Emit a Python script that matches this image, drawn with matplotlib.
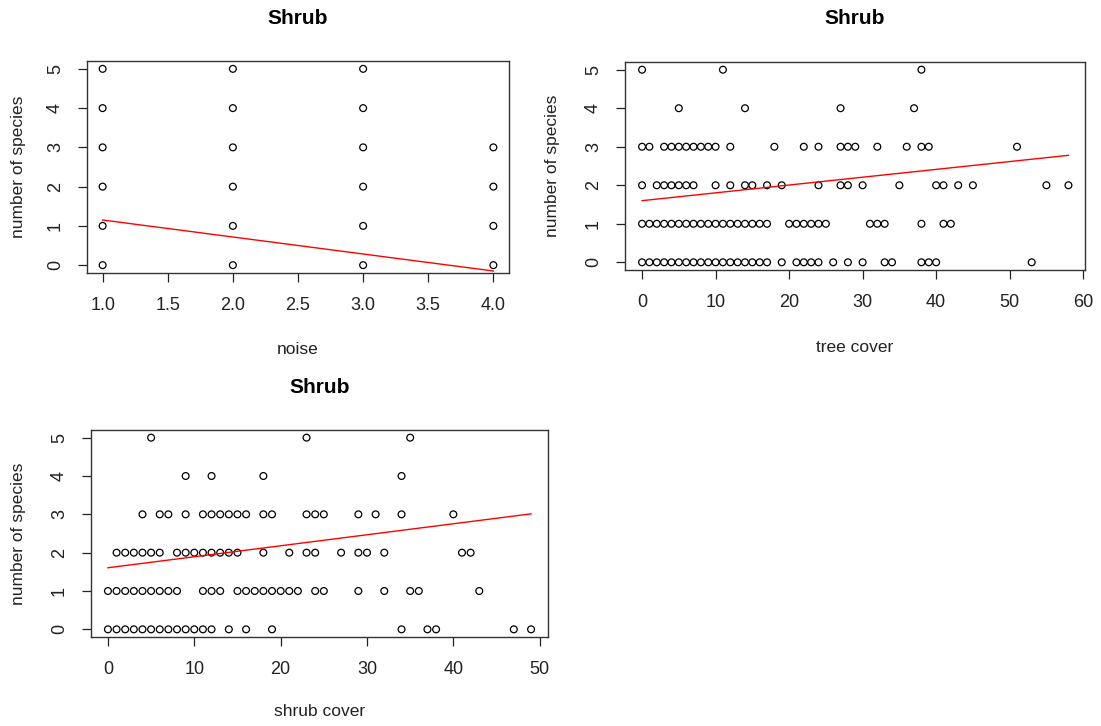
"""
three scatter plots of number of shrub species against noise, tree cover and shrub cover
"""
import matplotlib
matplotlib.use("Agg")
import matplotlib.pyplot as plt

# noise level -> species counts seen at that level
noise_levels = [1, 2, 3, 4]
noise_species = [[0, 1, 2, 3, 4, 5], [0, 1, 2, 3, 4, 5], [0, 1, 2, 3, 4, 5], [0, 1, 2, 3]]

# species count -> tree cover values
tree_cover = {
    0: list(range(0, 18)) + [19, 21, 22, 23, 24, 26, 28, 30, 33, 34, 38, 39, 40, 53],
    1: list(range(0, 18)) + [20, 21, 22, 23, 24, 25, 31, 32, 33, 38, 41, 42],
    2: [0, 2, 3, 4, 5, 6, 7, 10, 12, 14, 15, 17, 19, 24, 27, 28, 30, 35, 40, 41, 43, 45, 55, 58],
    3: [0, 1, 3, 4, 5, 6, 7, 8, 9, 10, 12, 18, 22, 24, 27, 28, 29, 32, 36, 38, 39, 51],
    4: [5, 14, 27, 37],
    5: [0, 11, 38],
}

# species count -> shrub cover values
shrub_cover = {
    0: list(range(0, 13)) + [14, 16, 19, 34, 37, 38, 47, 49],
    1: list(range(0, 9)) + [11, 12, 13, 15, 16, 17, 18, 19, 20, 21, 22, 24, 25, 29, 32, 35, 36, 43],
    2: [1, 2, 3, 4, 5, 6, 8, 9, 10, 11, 12, 13, 14, 15, 18, 21, 23, 24, 27, 29, 30, 32, 41, 42],
    3: [4, 6, 7, 9, 11, 12, 13, 14, 15, 16, 18, 19, 23, 24, 25, 29, 31, 34, 40],
    4: [9, 12, 18, 34],
    5: [5, 23, 35],
}

# linear fits (intercept, slope)
noise_fit = (1.583, -0.433)
tree_fit = (1.60, 0.0203)
shrub_fit = (1.606, 0.0287)

W, H = 1101, 726


def flatten(d):
    xs, ys = [], []
    for k, vals in d.items():
        xs += vals
        ys += [k] * len(vals)
    return xs, ys


def panel(fig, box, xs, ys, fit, xlim, xticks, xticklabels, xlabel, title_y, xlabel_y, ylabel_x):
    left, right, top, bottom = box
    ax = fig.add_axes([left / W, 1 - bottom / H, (right - left) / W, (bottom - top) / H])
    ax.scatter(xs, ys, s=24, facecolors="none", edgecolors="k", linewidths=0.9)
    x0, x1 = min(xs), max(xs)
    ax.plot([x0, x1], [fit[0] + fit[1] * x0, fit[0] + fit[1] * x1], color="red", lw=1)
    ax.set_xlim(*xlim)
    ax.set_ylim(-0.2, 5.2)
    ax.set_xticks(xticks)
    ax.set_xticklabels(xticklabels)
    ax.set_yticks(range(6))
    ax.set_yticklabels([str(i) for i in range(6)], rotation=90, va="center")
    ax.tick_params(direction="out", length=6.5, width=0.9, labelsize=13, colors="#222222")
    ax.tick_params(axis="x", pad=11)
    ax.tick_params(axis="y", pad=10)
    for s in ax.spines.values():
        s.set_linewidth(1)
        s.set_color("#333333")
    cx = (left + right) / 2
    fig.text(cx / W, 1 - title_y / H, "Shrub", ha="center", va="center",
             fontsize=15, fontweight="bold")
    fig.text(cx / W, 1 - xlabel_y / H, xlabel, ha="center", va="center", fontsize=12.5,
             color="#222222")
    fig.text(ylabel_x / W, 1 - (top + bottom) / 2 / H, "number of species", ha="center",
             va="center", rotation=90, fontsize=12.5, color="#222222")
    return ax


def main():
    plt.rcParams["font.family"] = ["Liberation Sans", "DejaVu Sans"]
    fig = plt.figure(figsize=(W / 100, H / 100), dpi=100)

    nx, ny = [], []
    for lvl, vals in zip(noise_levels, noise_species):
        nx += [lvl] * len(vals)
        ny += vals
    panel(fig, (87, 509, 61, 273), nx, ny, noise_fit, (0.88, 4.12),
          [1, 1.5, 2, 2.5, 3, 3.5, 4], ["1.0", "1.5", "2.0", "2.5", "3.0", "3.5", "4.0"],
          "noise", 18, 350, 19)

    tx, ty = flatten(tree_cover)
    panel(fig, (625, 1085, 62, 270), tx, ty, tree_fit, (-2.32, 60.25),
          [0, 10, 20, 30, 40, 50, 60], ["0", "10", "20", "30", "40", "50", "60"],
          "tree cover", 19, 347, 553)

    sx, sy = flatten(shrub_cover)
    panel(fig, (91, 548, 430, 637), sx, sy, shrub_fit, (-1.96, 50.96),
          [0, 10, 20, 30, 40, 50], ["0", "10", "20", "30", "40", "50"],
          "shrub cover", 388, 712, 19)

    fig.savefig("out.png", dpi=100)


if __name__ == "__main__":
    main()
